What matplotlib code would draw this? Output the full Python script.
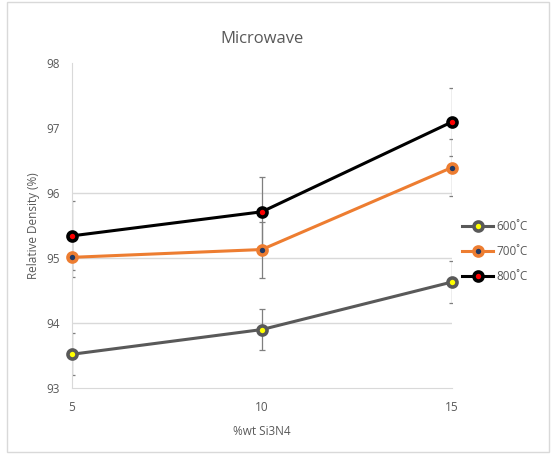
import matplotlib.pyplot as plt
from matplotlib.patches import Rectangle

plt.rcParams['font.family'] = ['Open Sans', 'DejaVu Sans']

x_vals = [5, 10, 15]
series_names = ['600˚C', '700˚C', '800˚C']
d600 = [93.52, 93.90, 94.63]
d700 = [95.01, 95.13, 96.39]
d800 = [95.34, 95.71, 97.09]
e600 = [0.32, 0.32, 0.32]
e700 = [0.30, 0.43, 0.44]
e800 = [0.53, 0.54, 0.52]

line_cols = ['#595959', '#ED7D31', '#000000']
face_cols = ['#FFFF00', '#1F3864', '#FF0000']

fig = plt.figure(figsize=(5.53, 4.55), dpi=100)
# outer chart frame
fig.patches.append(Rectangle((0.013, 0.006), 0.98, 0.99, transform=fig.transFigure,
                             fill=False, edgecolor='#d9d9d9', linewidth=1))
ax = fig.add_axes([0.130, 0.147, 0.687, 0.715])

for ys, es, lc, fc, name in zip([d600, d700, d800], [e600, e700, e800],
                                line_cols, face_cols, series_names):
    ax.errorbar(x_vals, ys, yerr=es, fmt='none', ecolor='#7f7f7f',
                elinewidth=0.9, capsize=2.5, capthick=0.9, zorder=2)
    ax.plot(x_vals, ys, color=lc, linewidth=2.2, marker='o', markersize=6.5,
            markerfacecolor=fc, markeredgecolor=lc, markeredgewidth=2.6,
            label=name, zorder=3, clip_on=False)

ax.set_xlim(5, 15)
ax.set_ylim(93, 98)
ax.set_xticks(x_vals)
ax.set_yticks([93, 94, 95, 96, 97, 98])
for gy in [94, 95, 96]:
    ax.axhline(gy, color='#d9d9d9', linewidth=1, zorder=1)

for s in ['top', 'right']:
    ax.spines[s].set_visible(False)
for s in ['left', 'bottom']:
    ax.spines[s].set_color('#d9d9d9')
ax.tick_params(length=0, labelsize=8.5, colors='#595959', pad=9)

ax.set_title('Microwave', fontsize=12, color='#595959', pad=14)
ax.set_xlabel('%wt Si3N4', fontsize=8.5, color='#595959', labelpad=8)
ax.set_ylabel('Relative Density (%)', fontsize=8.5, color='#595959', labelpad=4)

ax.legend(loc='center left', bbox_to_anchor=(1.0, 0.42), frameon=False,
          fontsize=8.5, labelcolor='#595959', handlelength=2.6,
          handletextpad=0.3, labelspacing=1.0)

fig.savefig('out.png', dpi=100)
